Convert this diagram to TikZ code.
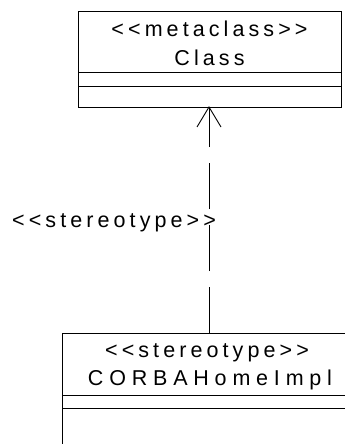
\documentclass[tikz,border=0pt]{standalone}
\usepackage{fontspec}
\newfontfamily\umlfont[LetterSpace=19]{Liberation Sans}
\newfontfamily\umlwidefont[LetterSpace=27]{Liberation Sans}
\begin{document}
\begin{tikzpicture}[x=1pt,y=-1pt,
  box/.style={draw=black,line width=0.9pt,inner sep=0pt,outer sep=0pt,anchor=north west},
  txt/.style={font=\umlfont\fontsize{21.5}{28}\selectfont,inner sep=0pt,anchor=base},
  widetxt/.style={txt,font=\umlwidefont\fontsize{21.5}{28}\selectfont},
  dep/.style={draw=black,line width=0.9pt,dash pattern=on 46pt off 16pt}]
\useasboundingbox (0,0) rectangle (345,444);
\clip (0,0) rectangle (345,444);
% top class
\node[box,minimum width=263pt,minimum height=61pt] (ch) at (78,11) {};
\node[box,minimum width=263pt,minimum height=14pt] (ca) at (ch.south west) {};
\node[box,minimum width=263pt,minimum height=21pt] (co) at (ca.south west) {};
\node[txt] (ct1) at (209.5,37) {<<metaclass>>};
\node[txt] (ct2) at (209.5,65) {Class};
% bottom class
\node[box,minimum width=294pt,minimum height=62pt] (bh) at (62,333) {};
\node[box,minimum width=294pt,minimum height=13pt] (ba) at (bh.south west) {};
\node[box,minimum width=294pt,minimum height=60pt] (bo) at (ba.south west) {};
\node[txt] (bt1) at (207,357) {<<stereotype>>};
\node[widetxt] (bt2) at (210,385) {CORBAHomeImpl};
% dependency
\coordinate (tip) at (209,107);
\coordinate (foot) at (209,333);
\draw[dep] (foot) -- (tip);
\draw[line width=0.9pt] (tip) ++(-12,20) -- (tip) -- ++(12,20);
\node[txt,anchor=base west] (lbl) at (12,227) {<<stereotype>>};
\end{tikzpicture}
\end{document}
